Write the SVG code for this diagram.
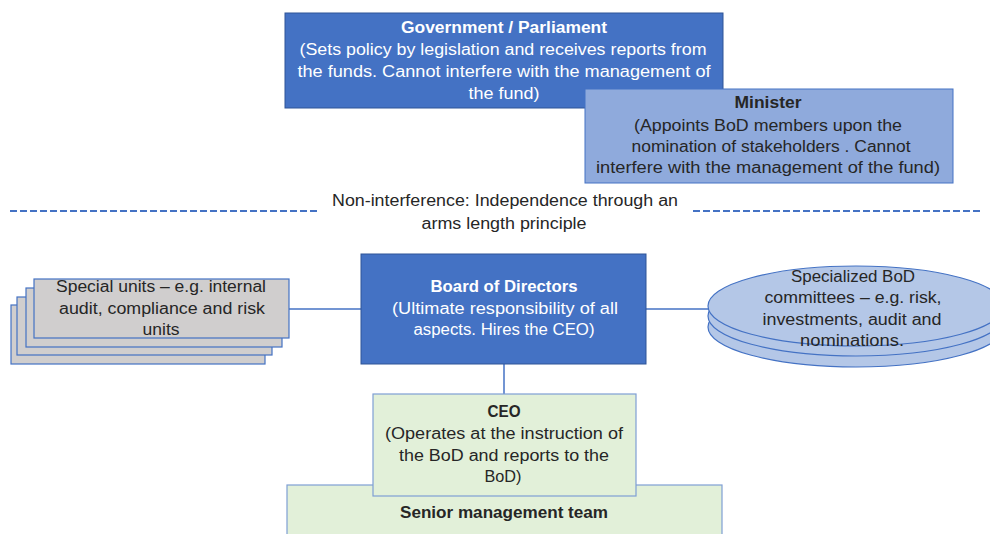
<svg xmlns="http://www.w3.org/2000/svg" width="990" height="534" viewBox="0 0 990 534">
<style>
text{font-family:"Liberation Sans",Arial,sans-serif;font-size:16px;text-anchor:middle}
.w{fill:#ffffff}
.d{fill:#262626}
.b{font-weight:bold}
.dark{fill:#4472C4;stroke:#2F5597;stroke-width:1}
.mid{fill:#8FAADC;stroke:#4472C4;stroke-width:1}
.grey{fill:#D0CECE;stroke:#4472C4;stroke-width:1.2}
.green{fill:#E2F0D9;stroke:#7F9FD4;stroke-width:1.2}
.ell{fill:#B4C7E7;stroke:#4472C4;stroke-width:1.2}
.conn{stroke:#4472C4;stroke-width:1.5;fill:none}
.dash{stroke:#4472C4;stroke-width:2;stroke-dasharray:7 3;fill:none}
</style>
<rect width="990" height="534" fill="#ffffff"/>
<g id="government">
<rect class="dark" x="285" y="13" width="438" height="95"/>
<text class="w b" x="504" y="33" textLength="206" lengthAdjust="spacingAndGlyphs">Government / Parliament</text>
<text class="w" x="503" y="55" textLength="407" lengthAdjust="spacingAndGlyphs">(Sets policy by legislation and receives reports from</text>
<text class="w" x="504" y="77" textLength="413" lengthAdjust="spacingAndGlyphs">the funds. Cannot interfere with the management of</text>
<text class="w" x="504" y="99" textLength="71" lengthAdjust="spacingAndGlyphs">the fund)</text>
</g>
<g id="minister">
<rect class="mid" x="585" y="89" width="368" height="94"/>
<text class="d b" x="768" y="108" textLength="67" lengthAdjust="spacingAndGlyphs">Minister</text>
<text class="d" x="768" y="131" textLength="268" lengthAdjust="spacingAndGlyphs">(Appoints BoD members upon the</text>
<text class="d" x="771" y="152" textLength="279" lengthAdjust="spacingAndGlyphs">nomination of stakeholders . Cannot</text>
<text class="d" x="768" y="173" textLength="344" lengthAdjust="spacingAndGlyphs">interfere with the management of the fund)</text>
</g>
<g id="non-interference">
<line class="dash" x1="10" y1="211" x2="317" y2="211"/>
<line class="dash" x1="693" y1="211" x2="982" y2="211"/>
<text class="d" x="505" y="206" textLength="346" lengthAdjust="spacingAndGlyphs">Non-interference: Independence through an</text>
<text class="d" x="504" y="229" textLength="165" lengthAdjust="spacingAndGlyphs">arms length principle</text>
</g>
<g id="connectors">
<line class="conn" x1="289" y1="309" x2="361" y2="309"/>
<line class="conn" x1="646" y1="309" x2="708" y2="309"/>
<line class="conn" x1="504" y1="364" x2="504" y2="394"/>
</g>
<g id="special-units">
<rect class="grey" x="11" y="305" width="254" height="59"/>
<rect class="grey" x="17" y="297" width="255" height="58"/>
<rect class="grey" x="26" y="288" width="256" height="59"/>
<rect class="grey" x="34" y="279" width="255" height="59"/>
<text class="d" x="161" y="292" textLength="210" lengthAdjust="spacingAndGlyphs">Special units – e.g. internal</text>
<text class="d" x="162" y="314" textLength="206" lengthAdjust="spacingAndGlyphs">audit, compliance and risk</text>
<text class="d" x="161" y="335" textLength="37" lengthAdjust="spacingAndGlyphs">units</text>
</g>
<g id="board">
<rect class="dark" x="361" y="254" width="285" height="110"/>
<text class="w b" x="504" y="292" textLength="147" lengthAdjust="spacingAndGlyphs">Board of Directors</text>
<text class="w" x="505" y="314" textLength="226" lengthAdjust="spacingAndGlyphs">(Ultimate responsibility of all</text>
<text class="w" x="504" y="335" textLength="181" lengthAdjust="spacingAndGlyphs">aspects. Hires the CEO)</text>
</g>
<g id="committees">
<ellipse class="ell" cx="856" cy="327" rx="148" ry="40"/>
<ellipse class="ell" cx="856" cy="316" rx="148" ry="40"/>
<ellipse class="ell" cx="856" cy="306" rx="148" ry="40"/>
<text class="d" x="853" y="282" textLength="124" lengthAdjust="spacingAndGlyphs">Specialized BoD</text>
<text class="d" x="853" y="303" textLength="177" lengthAdjust="spacingAndGlyphs">committees – e.g. risk,</text>
<text class="d" x="852" y="325" textLength="179" lengthAdjust="spacingAndGlyphs">investments, audit and</text>
<text class="d" x="852" y="346" textLength="104" lengthAdjust="spacingAndGlyphs">nominations.</text>
</g>
<g id="senior-management">
<rect class="green" x="287" y="485" width="435" height="60"/>
<text class="d b" x="504" y="518" textLength="208" lengthAdjust="spacingAndGlyphs">Senior management team</text>
</g>
<g id="ceo">
<rect class="green" x="373" y="394" width="263" height="102"/>
<text class="d b" x="504" y="417" textLength="33" lengthAdjust="spacingAndGlyphs">CEO</text>
<text class="d" x="504" y="439" textLength="238" lengthAdjust="spacingAndGlyphs">(Operates at the instruction of</text>
<text class="d" x="504" y="461" textLength="210" lengthAdjust="spacingAndGlyphs">the BoD and reports to the</text>
<text class="d" x="503" y="482" textLength="37" lengthAdjust="spacingAndGlyphs">BoD)</text>
</g>
</svg>
